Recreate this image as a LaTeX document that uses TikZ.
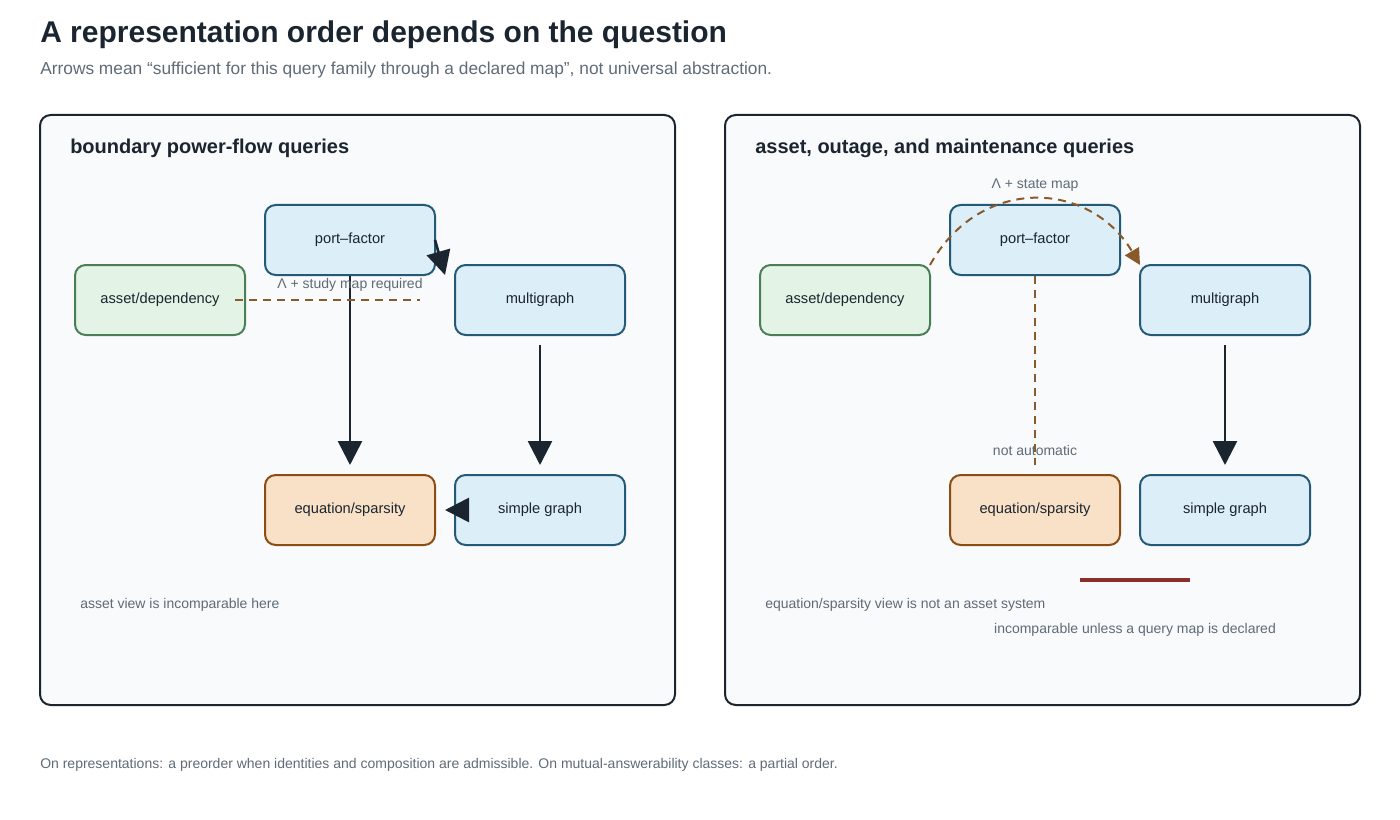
\documentclass[tikz,border=0pt]{standalone}
\usepackage{fontspec}
\setmainfont{Liberation Sans}
\usetikzlibrary{arrows.meta}
\definecolor{ink}{HTML}{1B2530}
\definecolor{muted}{HTML}{5F6B76}
\definecolor{blueline}{HTML}{245A78}
\definecolor{bluefill}{HTML}{DCEEF8}
\definecolor{greenline}{HTML}{4A7E57}
\definecolor{greenfill}{HTML}{E3F3E5}
\definecolor{orangeline}{HTML}{8B4D14}
\definecolor{orangefill}{HTML}{F8E1C6}
\definecolor{mapline}{HTML}{8B5A2B}
\definecolor{redline}{HTML}{8B2E2E}
\definecolor{panelfill}{HTML}{F8FAFC}
\tikzset{rep/.style={draw=blueline,fill=bluefill,line width=1.5pt,rounded corners=8pt,minimum width=127.5pt,minimum height=52.5pt,font=\fontsize{11}{13}\selectfont,text=ink},
asset rep/.style={rep,draw=greenline,fill=greenfill},
eq rep/.style={rep,draw=orangeline,fill=orangefill},
panel/.style={draw=ink,fill=panelfill,line width=1.5pt,rounded corners=8pt},
panel title/.style={font=\bfseries\fontsize{15}{18}\selectfont,text=ink,anchor=west,inner sep=0pt},
note/.style={font=\fontsize{10.5}{12}\selectfont,text=muted,inner sep=0pt},
order/.style={draw=ink,line width=2pt,-{Triangle[length=18pt,width=18pt]}},
declared/.style={draw=mapline,line width=1.5pt,dash pattern=on 6pt off 4.5pt}}

\begin{document}
\begin{tikzpicture}[x=0.75pt,y=-0.75pt]
\useasboundingbox (0,0) rectangle (1400,820);

%% title and footer
\node [font=\bfseries\fontsize{22.5}{26}\selectfont,text=ink,anchor=west,inner sep=0pt] (title) at (40,35) {A representation order depends on the question};
\node [font=\fontsize{13}{15}\selectfont,text=muted,anchor=west,inner sep=0pt] (subtitle) at (40,70) {Arrows mean “sufficient for this query family through a declared map”, not universal abstraction.};
\node [note,anchor=west] (footer) at (40,765) {On representations: a preorder when identities and composition are admissible. On mutual-answerability classes: a partial order.};

%% panels
\draw [panel] (40,115) rectangle (675,705);
\draw [panel] (725,115) rectangle (1360,705);
\node [panel title] (lefttitle) at (70,148) {boundary power-flow queries};
\node [panel title] (righttitle) at (755,148) {asset, outage, and maintenance queries};

%% left panel
\node [rep] (lport) at (350,240) {port–factor};
\node [asset rep] (lasset) at (160,300) {asset/dependency};
\node [rep] (lmulti) at (540,300) {multigraph};
\node [eq rep] (leq) at (350,510) {equation/sparsity};
\node [rep] (lsimple) at (540,510) {simple graph};

\coordinate (lportdown) at (350,465);
\coordinate (lmultiup) at (540,345);
\coordinate (lmultidown) at (540,465);
\coordinate (lsimpleleft) at (445,510);
\coordinate (lportside) at (435,240);
\coordinate (lmulticorner) at (445,275);
\coordinate (lstudyA) at (235,300);
\coordinate (lstudyB) at (420,300);

\draw [order] (lport.south) -- (lportdown);
\draw [order] (lmultiup) -- (lmultidown);
\draw [order] (lsimple.west) -- (lsimpleleft);
\draw [order] (lportside) -- (lmulticorner);
\draw [declared] (lstudyA) -- (lstudyB);
\node [note] (lstudy) at (350,285) {Λ + study map required};
\node [note,anchor=west] (lnote) at (80,605) {asset view is incomparable here};

%% right panel
\node [rep] (rport) at (1035,240) {port–factor};
\node [asset rep] (rasset) at (845,300) {asset/dependency};
\node [rep] (rmulti) at (1225,300) {multigraph};
\node [eq rep] (req) at (1035,510) {equation/sparsity};
\node [rep] (rsimple) at (1225,510) {simple graph};

\coordinate (rstateA) at (930,265);
\coordinate (rstateB) at (1140,265);
\coordinate (rnotauto) at (1035,465);
\coordinate (rmultiup) at (1225,345);
\coordinate (rmultidown) at (1225,465);
\coordinate (rbarA) at (1080,580);
\coordinate (rbarB) at (1190,580);

\draw [declared,-{Triangle[length=12pt,width=12pt]}] (rstateA) .. controls (980,175) and (1090,180) .. (rstateB);
\draw [declared] (rport.south) -- (rnotauto);
\draw [order] (rmultiup) -- (rmultidown);
\draw [draw=redline,line width=2.5pt] (rbarA) -- (rbarB);
\node [note] (rstate) at (1035,185) {Λ + state map};
\node [note] (rauto) at (1035,450) {not automatic};
\node [note,anchor=west] (rnote) at (765,605) {equation/sparsity view is not an asset system};
\node [note] (rincomp) at (1135,630) {incomparable unless a query map is declared};

\end{tikzpicture}
\end{document}
